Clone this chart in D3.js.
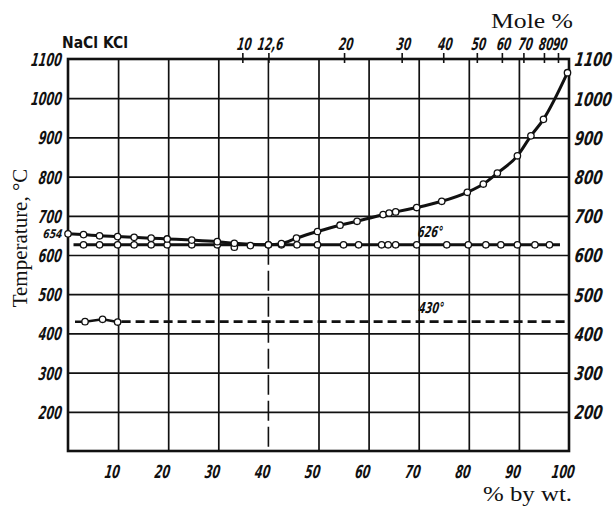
<!DOCTYPE html>
<html><head><meta charset="utf-8">
<script src="https://cdn.jsdelivr.net/npm/d3@7"></script>
<style>
body{margin:0;background:#fff;}
svg{display:block;}
.tk{font-family:"DejaVu Sans Condensed","DejaVu Sans",sans-serif;font-weight:bold;font-style:italic;fill:#111;}
.serif{font-family:"Liberation Serif","DejaVu Serif",serif;fill:#111;}
</style></head><body>
<svg id="c" width="614" height="508"></svg>
<script>
// ---- data ----
const tempTicks=[200,300,400,500,600,700,800,900,1000,1100];
const tempGrid=[200,300,400,500,600,700,800,900,1000];
const wtTicks=[10,20,30,40,50,60,70,80,90,100];
const wtGrid=[10,20,30,50,60,70,80,90];
const moleTickLabels=["10","12,6","20","30","40","50","60","70","80","90"];
const moleTickWt=[34.8,40,55.1,66.6,74.9,81.6,86.6,90.9,95.0,97.8];
// liquidus (upper curve)
const liqWt=[0,3.1,6.3,9.9,13.2,16.6,19.8,24.7,29.8,33.2,40,42.6,45.6,49.8,54.3,57.7,62.9,64.1,65.4,69.6,74.6,79.7,82.9,85.7,89.7,92.4,94.9,99.7];
const liqT =[654,652,649,647,645,643,641,638,634,630,626,629,643,660,676,686,703,707,710,721,737,760,781,809,853,904,946,1065];
// eutectic horizontal (626°)
const eutT=626, eutWt=40;
const eutLineWt=[1.1,98.2];
const solWt=[3.1,6.3,9.9,13.2,16.6,19.8,24.7,29.8,33.2,36.4,40,42.6,45.7,49.8,55,58,62.6,63.9,65.4,69.6,75.6,79.9,83.4,86.4,89.7,93.2,96.1];
const solT =[626,626,626,626,626,626,626,626,620,624,626,626,626,626,626,626,626,626,626,626,626,626,626,626,626,626,626];
// 430° transformation line
const lowT=430;
const lowWt=[1.4,3.4,6.9,9.9,10.7];
const lowVals=[430,430,436,429,430];
const lowDashWt=[10.7,100];
const lowMarkIdx=[1,2,3];

// ---- layout ----
const svg=d3.select("#c");
const L=68,R=569,T=59,B=451;
const x=d3.scaleLinear([0,100],[L,R]);
const y=d3.scaleLinear([100,1100],[B,T]);
const fmt=d3.format("d");

// gridlines
const gx=svg.append("g").attr("transform",`translate(0,${B})`)
  .call(d3.axisBottom(x).tickValues(wtGrid).tickSize(-(B-T)).tickFormat(""));
gx.select(".domain").remove();
gx.selectAll("line").attr("stroke","#111").attr("stroke-width",1.7);
const gy=svg.append("g").attr("transform",`translate(${L},0)`)
  .call(d3.axisLeft(y).tickValues(tempGrid).tickSize(-(R-L)).tickFormat(""));
gy.select(".domain").remove();
gy.selectAll("line").attr("stroke","#111").attr("stroke-width",1.7);

// eutectic composition vertical
svg.append("line").attr("x1",x(eutWt)).attr("x2",x(eutWt)).attr("y1",y(1100)).attr("y2",y(eutT))
  .attr("stroke","#111").attr("stroke-width",1.6);
svg.append("line").attr("x1",x(eutWt)).attr("x2",x(eutWt)).attr("y1",y(eutT)).attr("y2",y(100))
  .attr("stroke","#111").attr("stroke-width",1.6).attr("stroke-dasharray","20,6");

// border
svg.append("rect").attr("x",L).attr("y",T).attr("width",R-L).attr("height",B-T)
  .attr("fill","none").attr("stroke","#111").attr("stroke-width",2.6);

// top mole% axis
const gt=svg.append("g").attr("transform",`translate(0,${T+4})`)
  .call(d3.axisTop(x).tickValues(moleTickWt).tickSize(10).tickPadding(3)
    .tickFormat((d,i)=>moleTickLabels[i]));
gt.select(".domain").remove();
gt.selectAll("line").attr("stroke","#111").attr("stroke-width",1.6);
gt.selectAll("text").attr("class","tk").attr("font-size",17).attr("fill","#111")
  .attr("dy","0em").attr("x",0)
  .attr("transform",function(){const yy=d3.select(this).attr("y");d3.select(this).attr("y",null);return `translate(1,${yy}) skewX(-8) scale(0.68,1)`;});

// left axis labels
const gl=svg.append("g").attr("transform",`translate(62,0)`)
  .call(d3.axisLeft(y).tickValues(tempTicks).tickSize(0).tickPadding(0).tickFormat(fmt));
gl.select(".domain").remove();
gl.selectAll("text").attr("class","tk").attr("font-size",18).attr("fill","#111")
  .attr("x",0).attr("dy","0.36em").attr("transform","skewX(-8) scale(0.68,1)");

// right axis labels
const gr=svg.append("g").attr("transform",`translate(575,0)`)
  .call(d3.axisRight(y).tickValues(tempTicks).tickSize(0).tickPadding(0).tickFormat(fmt));
gr.select(".domain").remove();
gr.selectAll("text").attr("class","tk").attr("font-size",19).attr("fill","#111")
  .attr("x",0).attr("dy","0.36em").attr("transform","skewX(-8) scale(0.78,1)");

// bottom labels
const gb=svg.append("g").attr("transform",`translate(0,478)`)
  .call(d3.axisBottom(x).tickValues(wtTicks).tickSize(0).tickPadding(0).tickFormat(fmt));
gb.select(".domain").remove();
gb.selectAll("text").attr("class","tk").attr("font-size",18).attr("fill","#111")
  .attr("y",0).attr("dy","0em").attr("transform","translate(-7,0) skewX(-8) scale(0.68,1)");

// 430 line
svg.append("path").attr("d",d3.line().x(d=>x(d[0])).y(d=>y(d[1]))(lowWt.map((w,i)=>[w,lowVals[i]])))
  .attr("fill","none").attr("stroke","#111").attr("stroke-width",2.5);
svg.append("line").attr("x1",x(lowDashWt[0])).attr("x2",x(lowDashWt[1])).attr("y1",y(lowT)).attr("y2",y(lowT))
  .attr("stroke","#111").attr("stroke-width",2.6).attr("stroke-dasharray","9,5");

// eutectic horizontal
svg.append("line").attr("x1",x(eutLineWt[0])).attr("x2",x(eutLineWt[1])).attr("y1",y(eutT)).attr("y2",y(eutT))
  .attr("stroke","#111").attr("stroke-width",3);

// liquidus
svg.append("path").attr("d",d3.line().x(d=>x(d[0])).y(d=>y(d[1])).curve(d3.curveMonotoneX)(liqWt.map((w,i)=>[w,liqT[i]])))
  .attr("fill","none").attr("stroke","#111").attr("stroke-width",3);

// markers
function marks(ws,ts){
  svg.append("g").selectAll("circle").data(ws.map((w,i)=>[w,ts[i]])).join("circle")
    .attr("cx",d=>x(d[0])).attr("cy",d=>y(d[1])).attr("r",3.2)
    .attr("fill","#fff").attr("stroke","#111").attr("stroke-width",1.3);
}
marks(solWt,solT);
marks(liqWt,liqT);
marks(lowMarkIdx.map(i=>lowWt[i]),lowMarkIdx.map(i=>lowVals[i]));

// annotations
function lab(px,py,str,fs,sx,anchor){
  svg.append("g").attr("transform",`translate(${px},${py})`).append("text").attr("class","tk")
    .attr("font-size",fs).attr("text-anchor",anchor).attr("transform",`skewX(-8) scale(${sx},1)`).text(str);
}
lab(62,y(liqT[0])+4,String(liqT[0]),12,0.85,"end");
lab(x(69.7),y(eutT)-8,eutT+"°",15,0.72,"start");
lab(x(69.9),y(lowT)-9,lowT+"°",15,0.72,"start");

svg.append("text").attr("x",62).attr("y",48).attr("font-family","'DejaVu Sans Condensed',sans-serif")
  .attr("font-weight","bold").attr("font-size",16).attr("textLength",66).attr("lengthAdjust","spacingAndGlyphs")
  .attr("fill","#111").text("NaCl KCl");
svg.append("text").attr("class","serif").attr("x",491).attr("y",28).attr("font-size",21)
  .attr("textLength",82).attr("lengthAdjust","spacingAndGlyphs").text("Mole %");
svg.append("text").attr("class","serif").attr("x",483).attr("y",501).attr("font-size",20)
  .attr("textLength",89).attr("lengthAdjust","spacingAndGlyphs").text("% by wt.");
svg.append("text").attr("class","serif").attr("transform","translate(27,238) rotate(-90)")
  .attr("text-anchor","middle").attr("font-size",21).text("Temperature, °C");
</script>
</body></html>
